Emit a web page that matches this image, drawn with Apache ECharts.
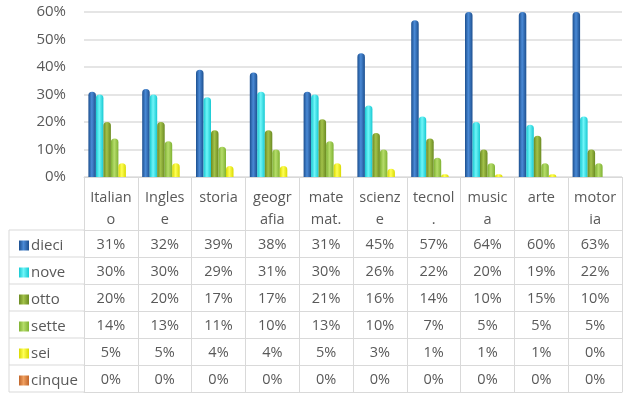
<!DOCTYPE html>
<html><head><meta charset="utf-8">
<script src="https://cdn.jsdelivr.net/npm/echarts@6/dist/echarts.min.js"></script>
<style>html,body{margin:0;padding:0;background:#fff}#c{width:627px;height:400px}</style>
</head><body><div id="c"></div>
<script>
const categories = ["Italian\no","Ingles\ne","storia","geogr\nafia","mate\nmat.","scienz\ne","tecnol\n.","music\na","arte","motor\nia"];
const seriesNames = ["dieci","nove","otto","sette","sei","cinque"];
const dieci  = [31,32,39,38,31,45,57,64,60,63];
const nove   = [30,30,29,31,30,26,22,20,19,22];
const otto   = [20,20,17,17,21,16,14,10,15,10];
const sette  = [14,13,11,10,13,10,7,5,5,5];
const sei    = [5,5,4,4,5,3,1,1,1,0];
const cinque = [0,0,0,0,0,0,0,0,0,0];
const yTicks = [0,10,20,30,40,50,60];
const values = [dieci,nove,otto,sette,sei,cinque];

const baseColors = [
  ['#1c4f8f','#4a8ad6'],
  ['#17c9d2','#6ff5f8'],
  ['#6b8a22','#a3c24a'],
  ['#7fb232','#b5dc6a'],
  ['#d9d900','#ffff55'],
  ['#c0652a','#f0a060']
];
function grad(c){
  return new echarts.graphic.LinearGradient(0,0,1,0,[
    {offset:0,color:c[0]},{offset:0.45,color:c[1]},{offset:1,color:c[0]}]);
}
const txt = '#595959', line = '#d9d9d9';
const font = 'Open Sans';
const axisY = 177;
const rowBottoms = [257,284,311,338,365,392];

const xAxes = [{
  type:'category', data: categories, gridIndex:0, position:'bottom',
  axisLine:{show:true,lineStyle:{color:line}},
  axisTick:{show:true,length:215,interval:0,lineStyle:{color:line}},
  axisLabel:{interval:0,color:txt,fontSize:14.5,fontFamily:font,lineHeight:22,margin:10}
},{
  type:'category', data: categories, gridIndex:0, position:'bottom', offset:230-axisY,
  axisLine:{show:true,lineStyle:{color:line}}, axisTick:{show:false}, axisLabel:{show:false}
}];
values.forEach((arr,i)=>{
  xAxes.push({
    type:'category', data: arr.map(v=>v+'%'), gridIndex:0, position:'bottom',
    offset: rowBottoms[i]-axisY,
    axisLine:{show:true,lineStyle:{color:line}}, axisTick:{show:false},
    axisLabel:{interval:0,inside:true,margin:5,color:txt,fontSize:14.5,fontFamily:font}
  });
});

const graphics = [{type:'line',shape:{x1:9,y1:230,x2:9,y2:392},style:{stroke:line,lineWidth:1}}];
[230].concat(rowBottoms).forEach(y=>{
  graphics.push({type:'line',shape:{x1:9,y1:y,x2:84,y2:y},style:{stroke:line,lineWidth:1}});
});

const option = {
  animation:false,
  backgroundColor:'#fff',
  grid:{left:84,right:5,top:12,bottom:400-axisY,containLabel:false},
  legend:{
    orient:'vertical', left:14, top:233, itemWidth:10, itemHeight:10, itemGap:12,
    icon:'rect', data: seriesNames, selectedMode:false,
    textStyle:{color:txt,fontSize:15,fontFamily:font,padding:[0,0,0,-3]}
  },
  xAxis: xAxes,
  yAxis:{type:'value',min:yTicks[0],max:yTicks[yTicks.length-1],interval:10,
    axisLabel:{formatter:'{value}%',color:txt,fontSize:15,fontFamily:font,margin:18},
    axisLine:{show:false},axisTick:{show:false},
    splitLine:{lineStyle:{color:'#dcdcdc',width:1.5}}},
  graphic: graphics,
  series: seriesNames.map((n,i)=>({
    name:n, type:'bar', xAxisIndex:0, data: values[i], clip:true,
    barWidth:7.5, barGap:'0%',
    itemStyle:{color:grad(baseColors[i]), borderRadius:[4,4,0,0]}
  }))
};
const chart = echarts.init(document.getElementById('c'),null,{renderer:'canvas'});
chart.setOption(option);
</script></body></html>
